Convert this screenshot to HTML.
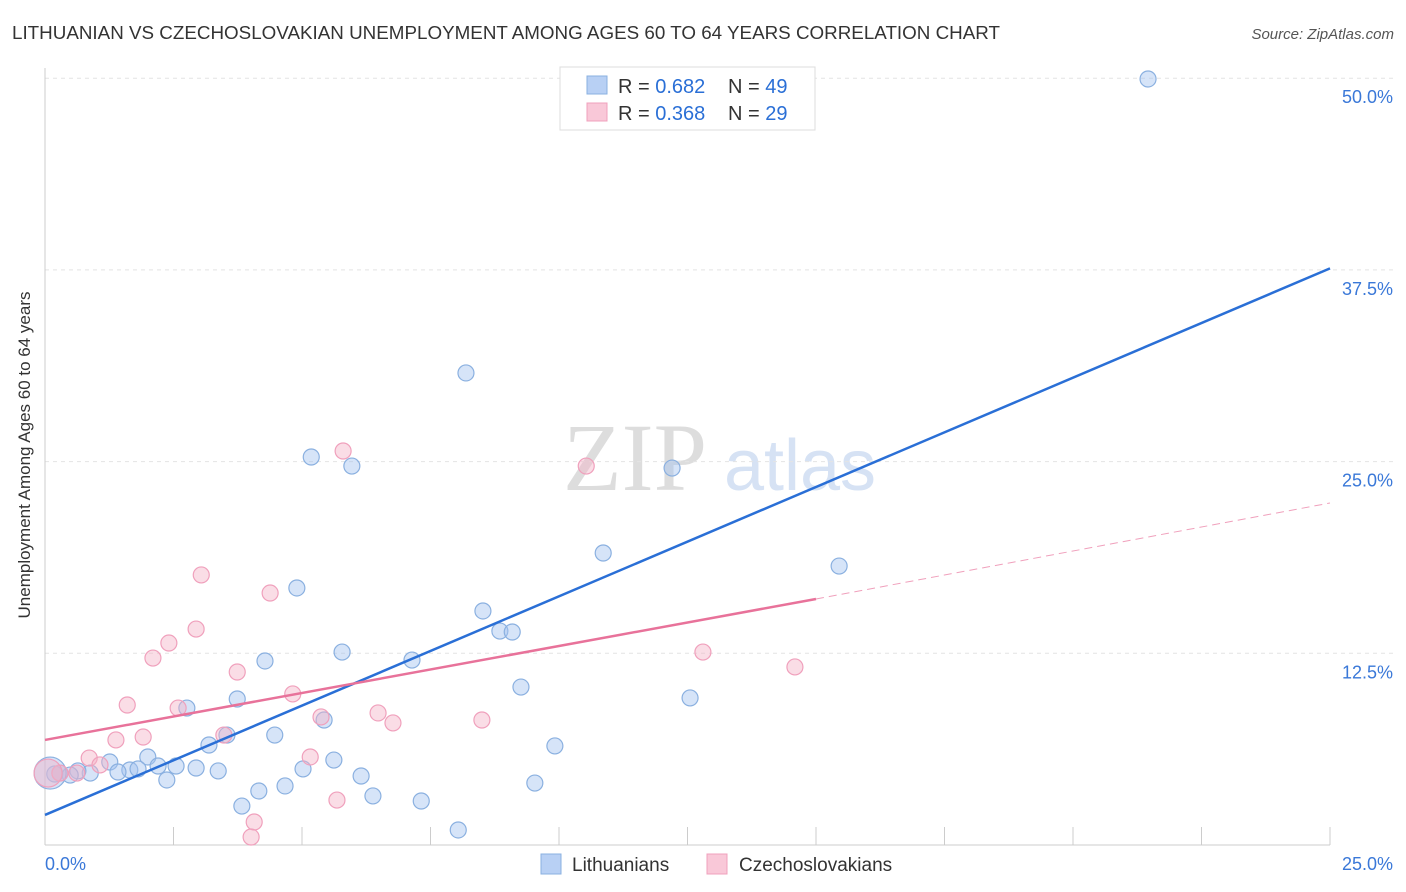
<!DOCTYPE html>
<html><head><meta charset="utf-8">
<style>
body{margin:0;background:#fff;font-family:"Liberation Sans",sans-serif;}
svg{display:block}
</style></head>
<body>
<svg id="c" width="1406" height="892">
<text x="12" y="39" font-size="18" fill="#333" textLength="988" lengthAdjust="spacingAndGlyphs">LITHUANIAN VS CZECHOSLOVAKIAN UNEMPLOYMENT AMONG AGES 60 TO 64 YEARS CORRELATION CHART</text>
<text x="1394" y="39" font-size="15" fill="#555" font-style="italic" text-anchor="end">Source: ZipAtlas.com</text>
<text x="30" y="455" font-size="17" fill="#333" text-anchor="middle" transform="rotate(-90 30 455)">Unemployment Among Ages 60 to 64 years</text>
<g>
<text x="635" y="490" font-size="96" fill="#ddd" font-family="Liberation Serif" text-anchor="middle">ZIP</text>
<text x="800" y="490" font-size="72" fill="#d6e2f4" text-anchor="middle">atlas</text>
</g>
<g id="grid"></g><g id="axes"></g><g id="marks"></g>
<g>
<rect x="560" y="67" width="255" height="63" fill="#fff" stroke="#ddd"/>
<rect x="587" y="76" width="20" height="18" fill="#b8d0f4" stroke="#8ab0e0"/>
<text x="618" y="93" font-size="20" fill="#333">R = <tspan fill="#2a6fd6">0.682</tspan></text>
<text x="728" y="93" font-size="20" fill="#333">N = <tspan fill="#2a6fd6">49</tspan></text>
<rect x="587" y="103" width="20" height="18" fill="#f9c8d8" stroke="#f0a0bc"/>
<text x="618" y="120" font-size="20" fill="#333">R = <tspan fill="#2a6fd6">0.368</tspan></text>
<text x="728" y="120" font-size="20" fill="#333">N = <tspan fill="#2a6fd6">29</tspan></text>
</g>
<g>
<rect x="541" y="854" width="20" height="20" fill="#b8d0f4" stroke="#8ab0e0"/>
<text x="572" y="871" font-size="19" fill="#333">Lithuanians</text>
<rect x="707" y="854" width="20" height="20" fill="#f9c8d8" stroke="#f0a0bc"/>
<text x="739" y="871" font-size="19" fill="#333">Czechoslovakians</text>
</g>
</svg>
<script>
const blueX=[21.46,8.19,5.18,5.97,12.20,10.86,15.45,4.90,8.52,8.85,9.09,5.78,4.28,7.14,9.26,12.55,3.74,2.76,3.54,4.47,5.43,3.19,9.92,2.00,1.26,2.20,2.55,2.94,3.37,1.65,1.81,1.42,0.88,0.64,0.29,0.19,0.49,5.02,5.62,6.15,2.37,9.53,4.16,4.67,3.83,6.38,7.32,8.04,0.10];
const blueY=[49.95,30.78,25.30,24.71,24.58,19.04,18.19,16.76,15.26,13.95,13.89,12.58,12.00,12.06,10.30,9.59,9.52,8.93,7.17,7.17,8.15,6.52,6.46,5.74,5.41,5.15,5.15,5.02,4.83,4.89,4.96,4.76,4.69,4.83,4.69,4.63,4.56,4.96,5.54,4.50,4.24,4.04,3.52,3.85,2.54,3.20,2.87,0.98,4.69];
const pinkX=[5.80,10.53,3.04,4.38,2.94,2.41,2.10,3.74,12.80,14.59,4.82,1.60,2.59,5.37,6.48,6.77,8.50,1.91,1.38,3.48,5.16,0.86,1.07,0.62,0.29,5.68,4.07,4.01,0.06];
const pinkY=[25.69,24.71,17.61,16.43,14.08,13.17,12.19,11.28,12.58,11.61,9.85,9.13,8.93,8.35,8.61,7.96,8.15,7.04,6.85,7.17,5.74,5.67,5.22,4.69,4.69,2.93,1.50,0.52,4.69];
const blueLine=[[0,1.96],[25,37.6]];
const pinkLine=[[0,6.85],[15,16.04]];
const pinkDash=[[15,16.04],[25,22.3]];
const yTicks=[12.5,25,37.5,50];
const yTickLabels=["12.5%","25.0%","37.5%","50.0%"];
const xLabels=["0.0%","25.0%"];
const ns="http://www.w3.org/2000/svg";
const X=v=>45+v*51.4, Y=v=>845-v*15.336;
function mk(p,t,a){const e=document.createElementNS(ns,t);for(const k in a)e.setAttribute(k,a[k]);p.appendChild(e);return e;}
const g=document.getElementById('grid'),ax=document.getElementById('axes'),m=document.getElementById('marks');
yTicks.forEach((t,i)=>{
 const l=mk(g,'line',{x1:45,x2:1395,y1:Y(t),y2:Y(t),stroke:'#e4e4e4','stroke-dasharray':'4,4'});
 
 
 const tx=mk(ax,'text',{x:1393,y:Y(t)+25,'font-size':18,fill:'#3a78d8','text-anchor':'end'});
 tx.textContent=yTickLabels[i];
 
 
});
mk(ax,'line',{x1:45,x2:45,y1:68,y2:845,stroke:'#ccc'});
mk(ax,'line',{x1:45,x2:1330,y1:845,y2:845,stroke:'#ccc'});
for(let i=0;i<=10;i++){const t=mk(ax,'line',{x1:X(i*2.5),x2:X(i*2.5),y1:827,y2:845,stroke:'#ccc'});
 
 }
const xl0=mk(ax,'text',{x:45,y:870,'font-size':18,fill:'#3a78d8'});xl0.textContent=xLabels[0];


const xl1=mk(ax,'text',{x:1393,y:870,'font-size':18,fill:'#3a78d8','text-anchor':'end'});xl1.textContent=xLabels[1];


blueX.forEach((v,i)=>{const r=i==blueX.length-1?16:8;const c=mk(m,'circle',{cx:X(v),cy:Y(blueY[i]),r:r,fill:'rgba(164,196,240,0.45)',stroke:'#8ab0e0','stroke-width':1.2});
 
 });
pinkX.forEach((v,i)=>{const r=i==pinkX.length-1?14:8;const c=mk(m,'circle',{cx:X(v),cy:Y(pinkY[i]),r:r,fill:'rgba(245,180,200,0.45)',stroke:'#f0a0bc','stroke-width':1.2});
 
 });
const bl=mk(m,'line',{x1:X(blueLine[0][0]),y1:Y(blueLine[0][1]),x2:X(blueLine[1][0]),y2:Y(blueLine[1][1]),stroke:'#2a6fd6','stroke-width':2.5});


const pl=mk(m,'line',{x1:X(pinkLine[0][0]),y1:Y(pinkLine[0][1]),x2:X(pinkLine[1][0]),y2:Y(pinkLine[1][1]),stroke:'#e8729a','stroke-width':2.5});


const pd=mk(m,'line',{x1:X(pinkDash[0][0]),y1:Y(pinkDash[0][1]),x2:X(pinkDash[1][0]),y2:Y(pinkDash[1][1]),stroke:'#f0a0bc','stroke-width':1,'stroke-dasharray':'8,5'});


</script>
</body></html>
